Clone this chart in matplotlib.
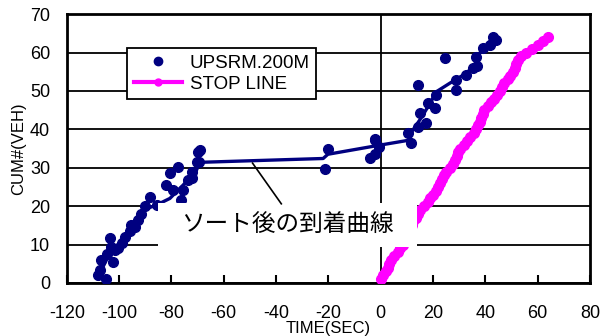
import matplotlib
matplotlib.use("Agg")
import matplotlib.pyplot as plt
from matplotlib.patches import Rectangle

plt.rcParams["font.family"] = ["Liberation Sans", "Noto Sans CJK JP", "DejaVu Sans"]
plt.rcParams["axes.unicode_minus"] = False

# 上流200m 地点の観測（散布点）
up_t = [-108, -107.5, -105, -106.8, -103.6, -103, -101.6, -102.3, -97.8, -94,
        -92.7, -91.5, -90.2, -88.3, -85.6, -81.9, -80.6, -77.4, -79.3, -76.2,
        -75.5, -73.6, -72, -69.8, -70.4, -69.2, -69.4, -72.3, -20.1, -21.4,
        -2.3, -4.2, -2.3, -0.5, -2.3, 10.4, 11.7, 14.3, 14.9, 17.5,
        18.1, 20.6, 21.3, 14.3, 24.5, 28.9, 28.9, 32.7, 35.3, 36.6,
        36.9, 39.1, 41.7, 42.9, 44.2, -99, -96, -100.5, -95.5, -104.5]
up_n = [2, 3.3, 1, 6, 11.7, 9.4, 8.6, 5.5, 12, 14.6,
        16.4, 18, 19.9, 22.5, 20.3, 25.5, 28.5, 30.3, 24.2, 21.6,
        24.2, 26.8, 29, 34.2, 31.6, 34.6, 31.5, 27.2, 35, 29.6,
        37.4, 32.4, 33.7, 35.3, 37.2, 39, 36.4, 40.7, 44.2, 41.6,
        46.8, 45.5, 48.9, 51.5, 58.5, 50.2, 52.8, 54.1, 55.9, 58.9,
        56.6, 61.1, 62, 64.1, 63.2, 10.5, 13.5, 9, 15, 7.5]

# ソート後の到着曲線
sort_t = [-108, -107.4, -103.6, -99.7, -94.6, -90.8, -85.7, -80.6, -75.5, -70.4,
          -69.2, -22, -20.2, -1, 11.1, 11.5, 14.9, 18.1, 21.3, 26.4,
          32.7, 36.6, 37.8, 40.4, 42.9]
sort_n = [1, 2.5, 7.7, 10.3, 13.8, 19, 20.3, 22, 25.5, 29.4,
          31.4, 32.4, 33.5, 35.8, 37.2, 39, 42.4, 45.9, 49.8, 52,
          54.6, 57.2, 59.8, 61.5, 64.1]

# 停止線通過
stop_t = [0.3, 1, 2, 2.7, 3.2, 3.8, 5, 6.5, 7.5, 8.5,
          9.3, 10, 10.5, 11, 11.8, 12.5, 13.5, 14.3, 15, 16.5,
          18, 19, 20, 21, 22, 22.8, 23.6, 24.3, 25, 26.5,
          27.5, 28.3, 29, 29.6, 30.5, 31.8, 33, 34, 35.5, 36.5,
          37.2, 37.8, 38.4, 39, 39.6, 41, 42.3, 43.5, 44.5, 45.5,
          46.3, 47, 48.5, 49.5, 50.5, 51.2, 51.9, 52.5, 53.5, 55.5,
          58, 60, 62, 63.8]
stop_n = list(range(1, len(stop_t) + 1))

fig = plt.figure(figsize=(6.02, 3.36), dpi=100)
ax = fig.add_axes([0.111, 0.158, 0.869, 0.800])

ax.set_xlim(-120, 80)
ax.set_ylim(0, 70)
ax.set_xticks(range(-120, 81, 20))
ax.set_yticks(range(0, 71, 10))
ax.yaxis.grid(True, color="black", lw=1.3, zorder=1)
ax.set_axisbelow(True)
ax.axvline(0, color="black", lw=1.3, zorder=1)

ax.plot(stop_t, stop_n, color="#ff00ff", lw=4, marker="o", ms=7,
        mec="#ff00ff", label="STOP LINE", zorder=3)
ax.plot(sort_t, sort_n, color="#000080", lw=2.4, zorder=4)
ax.plot(up_t, up_n, ls="none", marker="o", ms=7, color="#000080",
        label="UPSRM.200M", zorder=5)

# 注記
ax.add_patch(Rectangle((-85.2, 9.4), 99, 11.4, facecolor="white",
                       edgecolor="none", zorder=6))
ax.plot([-38, -49], [20.6, 31.2], color="black", lw=1.2, zorder=6)
ax.text(-35.7, 15.1, "ソート後の到着曲線", fontsize=17, ha="center", va="center",
        family=["Noto Sans CJK JP", "DejaVu Sans"], zorder=7)

for s in ax.spines.values():
    s.set_linewidth(2)
ax.tick_params(axis="x", direction="in", length=6, width=1.5, pad=16, labelsize=13, top=False)
ax.tick_params(axis="y", direction="in", length=0, pad=12, labelsize=13)
ax.set_xlabel("TIME(SEC)", fontsize=12, labelpad=-1)
ax.set_ylabel("CUM#(VEH)", fontsize=12, labelpad=3)

handles, labels = ax.get_legend_handles_labels()
leg = ax.legend(handles[::-1], labels[::-1], loc="upper left",
                bbox_to_anchor=(0.115, 0.874), fontsize=13.5, frameon=True,
                fancybox=False, framealpha=1, edgecolor="black",
                handlelength=2.6, borderpad=0.35, labelspacing=0.2,
                handletextpad=0.4, borderaxespad=0)
leg.get_frame().set_linewidth(1.3)
leg.legend_handles[0].set_markersize(6)
leg.legend_handles[1].set_markersize(5)
leg.legend_handles[1].set_linewidth(3)

fig.savefig("out.png", dpi=100)
